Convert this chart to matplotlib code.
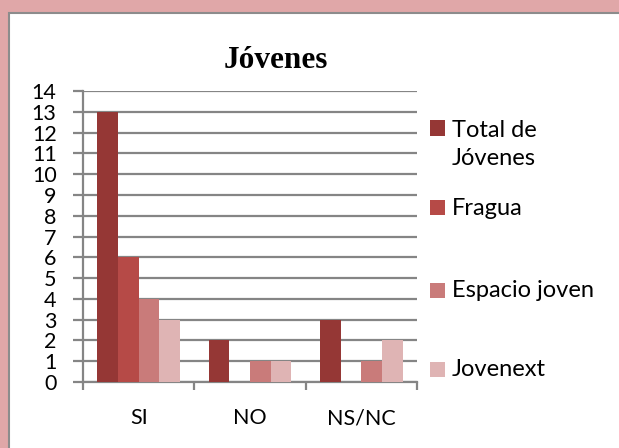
import matplotlib.pyplot as plt
from matplotlib.patches import Rectangle
import numpy as np

categories = ["SI", "NO", "NS/NC"]
series_names = ["Total de\nJóvenes", "Fragua", "Espacio joven", "Jovenext"]
total_jovenes = [13, 2, 3]
fragua = [6, 0, 0]
espacio_joven = [4, 1, 1]
jovenext = [3, 1, 2]
series_values = [total_jovenes, fragua, espacio_joven, jovenext]
colors = ['#953735', '#b64a47', '#c97b7a', '#dfb4b4']

W, H = 619, 448
fig = plt.figure(figsize=(W / 100, H / 100), dpi=100)
fig.patch.set_facecolor('#e0a7a8')

# white panel with grey edge on top/left
fig.patches.append(Rectangle((9 / W, -0.1), 1.2, 1 - 13 / H + 0.1,
                             transform=fig.transFigure, facecolor='white',
                             edgecolor='#8c8c8c', linewidth=1.5, zorder=-5))

plt.rcParams['font.family'] = ['Lato', 'DejaVu Sans']

ax = fig.add_axes([83 / W, 1 - 382 / H, (417 - 83) / W, (382 - 91) / H])
ax.set_facecolor('none')

bar_width = 0.185
x = np.arange(len(categories))
for i, vals in enumerate(series_values):
    ax.bar(x - 1.5 * bar_width + i * bar_width, vals, width=bar_width,
           color=colors[i], zorder=3)

ax.set_xlim(-0.5, 2.5)
ax.set_ylim(0, 14)
ax.set_yticks(range(0, 15))
ax.yaxis.grid(True, color='#858585', linewidth=1.6, zorder=0)
ax.set_axisbelow(True)
for s in ['top', 'right']:
    ax.spines[s].set_visible(False)
ax.spines['left'].set_color('#858585')
ax.spines['left'].set_linewidth(1.6)
ax.spines['bottom'].set_color('#858585')
ax.spines['bottom'].set_linewidth(1.6)

ax.set_xticks([-0.5, 0.5, 1.5, 2.5])
ax.set_xticklabels([])
ax.set_xticks(x, minor=True)
ax.set_xticklabels(categories, minor=True, fontsize=15.5)
ax.tick_params(axis='x', which='major', direction='out', length=6, color='#858585', width=1.6)
ax.tick_params(axis='x', which='minor', length=0, pad=19)
ax.tick_params(axis='y', direction='out', length=7, color='#858585', width=1.6,
               labelsize=15.5, pad=12)

fig.text(276 / W, 1 - 60 / H, "Jóvenes", ha='center', va='center',
         fontsize=22.5, fontweight='bold', family='Liberation Serif')

# legend drawn by hand to match the spacing
leg_y = [128, 208, 290, 369]
for name, c, yy in zip(series_names, colors, leg_y):
    fig.patches.append(Rectangle((430 / W, 1 - (yy + 7.5) / H), 15 / W, 15 / H,
                                 transform=fig.transFigure, facecolor=c, edgecolor='none'))
    ty = yy + 16.5 if '\n' in name else yy
    fig.text(452 / W, 1 - ty / H, name, ha='left', va='center',
             fontsize=17, linespacing=1.4)

fig.savefig("out.png", dpi=100)
